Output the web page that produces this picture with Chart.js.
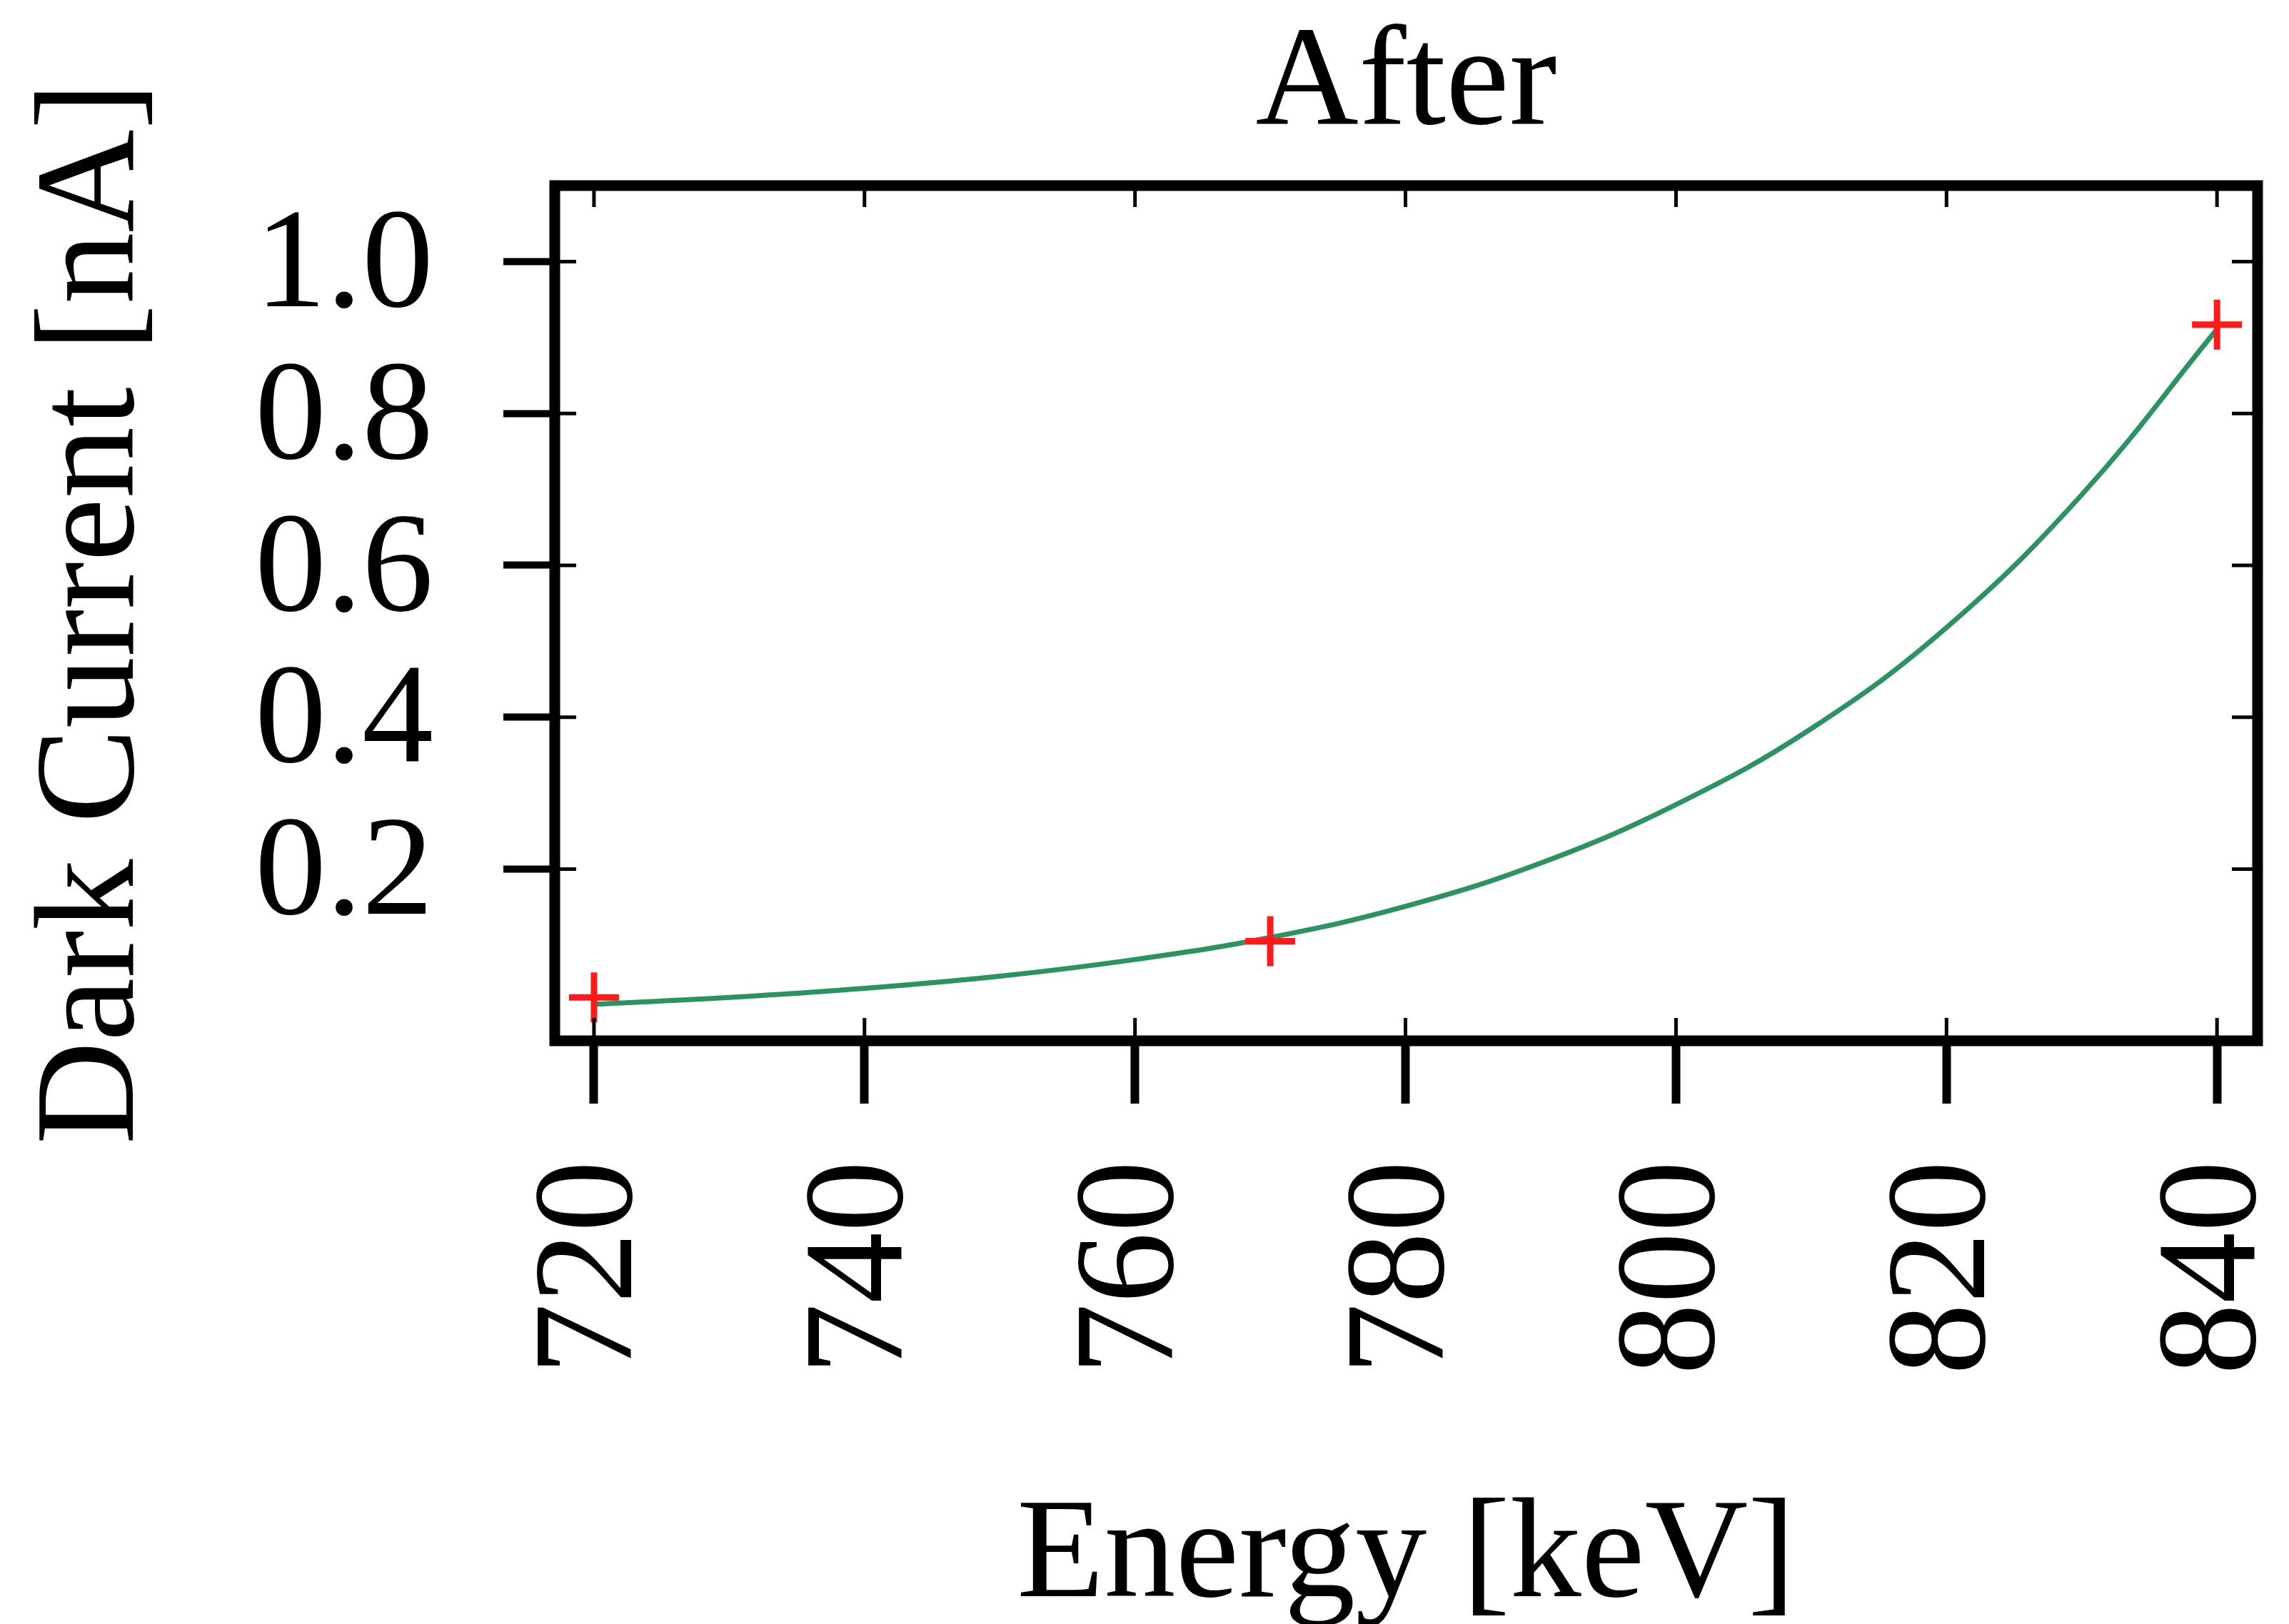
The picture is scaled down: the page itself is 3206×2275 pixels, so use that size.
<!DOCTYPE html>
<html>
<head>
<meta charset="utf-8">
<title>After</title>
<script src="https://cdn.jsdelivr.net/npm/chart.js@4.4.1/dist/chart.umd.min.js"></script>
<style>
  html, body { margin: 0; padding: 0; background: #fff; }
  canvas { display: block; }
</style>
</head>
<body>
<canvas id="chart" width="3206" height="2275"></canvas>
<script>
// =============================
// Data
// =============================
const fitEnergy   = [720, 730, 740, 750, 760, 770, 780, 790, 800, 810, 820, 830, 840];
const fitCurrent  = [0.022, 0.031, 0.043, 0.059, 0.081, 0.110, 0.151, 0.208, 0.285, 0.385, 0.518, 0.693, 0.911];
const measEnergy  = [720, 770, 840];
const measCurrent = [0.031, 0.105, 0.917];
const xTicks = [720, 740, 760, 780, 800, 820, 840];
const yTicks = [0.2, 0.4, 0.6, 0.8, 1.0];

const FONT = "'Liberation Serif', 'Times New Roman', serif";

// =============================
// Frame + inner ticks
// =============================
const framePlugin = {
  id: "frame",
  afterDatasetsDraw(chart) {
    const { ctx, chartArea: a, scales: { x, y } } = chart;
    ctx.save();
    ctx.strokeStyle = "#000";
    ctx.lineWidth = 5;
    ctx.beginPath();
    xTicks.forEach(v => {
      const px = x.getPixelForValue(v);
      ctx.moveTo(px, a.bottom); ctx.lineTo(px, a.bottom - 32);
      ctx.moveTo(px, a.top); ctx.lineTo(px, a.top + 30);
    });
    yTicks.forEach(v => {
      const py = y.getPixelForValue(v);
      ctx.moveTo(a.left, py); ctx.lineTo(a.left + 30, py);
      ctx.moveTo(a.right, py); ctx.lineTo(a.right - 36, py);
    });
    ctx.stroke();
    ctx.lineWidth = 15;
    ctx.strokeRect(a.left, a.top, a.right - a.left, a.bottom - a.top);
    ctx.restore();
  }
};

// =============================
// Chart
// =============================
new Chart(document.getElementById("chart"), {
  type: "scatter",
  data: {
    datasets: [
      {
        label: "Measured",
        data: measEnergy.map((e, i) => ({ x: e, y: measCurrent[i] })),
        pointStyle: "cross",
        pointRadius: 35,
        pointBorderWidth: 9,
        borderColor: "#ff1a1a",
        backgroundColor: "#ff1a1a",
        showLine: false
      },
      {
        label: "Fit",
        data: fitEnergy.map((e, i) => ({ x: e, y: fitCurrent[i] })),
        showLine: true,
        borderColor: "#2b9360",
        borderWidth: 7,
        pointRadius: 0,
        tension: 0.4,
        fill: false
      }
    ]
  },
  options: {
    responsive: false,
    animation: false,
    devicePixelRatio: 1,
    layout: { padding: { left: 0, right: 30, top: 0, bottom: 0 } },
    plugins: {
      legend: { display: false },
      tooltip: { enabled: false },
      title: {
        display: true,
        text: "After",
        fullSize: false,
        color: "#000",
        font: { family: FONT, size: 200, weight: "normal", lineHeight: 1.2 },
        padding: { top: 0, bottom: 20 }
      }
    },
    scales: {
      x: {
        type: "linear",
        min: 717.1,
        max: 843.0,
        afterBuildTicks: s => { s.ticks = xTicks.map(v => ({ value: v })); },
        afterFit: s => { s.height = 817; s.paddingLeft = 0; s.paddingRight = 0; },
        border: { display: false },
        grid: { drawOnChartArea: false, tickLength: 88, tickWidth: 12, tickColor: "#000" },
        ticks: {
          minRotation: 90,
          maxRotation: 90,
          autoSkip: false,
          padding: 80,
          color: "#000",
          font: { family: FONT, size: 200, lineHeight: 1.2 },
          callback: v => String(v)
        },
        title: {
          display: true,
          text: "Energy [keV]",
          color: "#000",
          font: { family: FONT, size: 200, lineHeight: 0.9 },
          padding: { top: 0, bottom: 2 }
        }
      },
      y: {
        type: "linear",
        min: -0.026,
        max: 1.10,
        afterBuildTicks: s => { s.ticks = yTicks.map(v => ({ value: v })); },
        afterFit: s => { s.width = 777; s.paddingTop = 0; s.paddingBottom = 0; },
        border: { display: false },
        grid: { drawOnChartArea: false, tickLength: 72, tickWidth: 10, tickColor: "#000" },
        ticks: {
          padding: 98,
          labelOffset: 10,
          color: "#000",
          font: { family: FONT, size: 200, lineHeight: 1.2 },
          callback: v => v.toFixed(1)
        },
        title: {
          display: true,
          text: "Dark Current [nA]",
          color: "#000",
          font: { family: FONT, size: 200, lineHeight: 1.2 },
          padding: { top: 13, bottom: 0 }
        }
      }
    }
  },
  plugins: [framePlugin]
});
</script>
</body>
</html>
